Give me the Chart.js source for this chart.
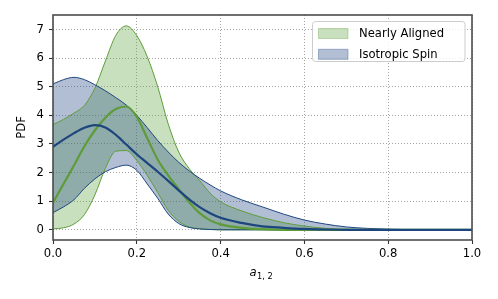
<!DOCTYPE html>
<html>
<head>
<meta charset="utf-8">
<script src="https://cdn.jsdelivr.net/npm/chart.js@4/dist/chart.umd.min.js"></script>
<style>html,body{margin:0;padding:0;background:#fff;}canvas{display:block;}</style>
</head>
<body>
<canvas id="c" width="498" height="299"></canvas>
<script>
const xs = [0, 0.025, 0.05, 0.075, 0.1, 0.125, 0.15, 0.175, 0.2, 0.225, 0.25, 0.275, 0.3, 0.325, 0.35, 0.375, 0.4, 0.45, 0.5, 0.55, 0.6, 0.65, 0.7, 0.75, 0.8, 0.9, 1.0];
const alignedUpper  = [3.68, 3.86, 4.08, 4.35, 4.95, 5.9, 6.8, 7.13, 6.79, 6.05, 5.0, 3.7, 2.72, 2.14, 1.72, 1.28, 0.98, 0.66, 0.43, 0.25, 0.13, 0.05, 0.02, 0.005, 0, 0, 0];
const alignedMedian = [0.95, 1.6, 2.25, 2.92, 3.48, 3.92, 4.22, 4.31, 3.95, 3.2, 2.45, 1.9, 1.42, 0.96, 0.58, 0.33, 0.19, 0.07, 0.02, 0, 0, 0, 0, 0, 0, 0, 0];
const alignedLower  = [0.03, 0.07, 0.2, 0.53, 1.22, 2.15, 2.75, 2.77, 2.42, 1.9, 1.3, 0.68, 0.3, 0.1, 0.04, 0.01, 0, 0, 0, 0, 0, 0, 0, 0, 0, 0, 0];
const isoUpper  = [5.1, 5.25, 5.33, 5.25, 5.07, 4.86, 4.62, 4.36, 4.0, 3.57, 3.12, 2.72, 2.36, 2.06, 1.8, 1.57, 1.36, 1.05, 0.8, 0.55, 0.34, 0.2, 0.1, 0.05, 0.02, 0, 0];
const isoMedian = [2.9, 3.15, 3.38, 3.57, 3.66, 3.58, 3.32, 2.98, 2.64, 2.33, 2.03, 1.71, 1.38, 1.06, 0.79, 0.58, 0.42, 0.24, 0.12, 0.07, 0.03, 0.01, 0, 0, 0, 0, 0];
const isoLower  = [0.6, 0.8, 1.05, 1.45, 1.78, 2.03, 2.18, 2.26, 2.08, 1.6, 1.1, 0.55, 0.22, 0.08, 0.03, 0.01, 0, 0, 0, 0, 0, 0, 0, 0, 0, 0, 0];
const xTicks = [0, 0.2, 0.4, 0.6, 0.8, 1.0];
const yTicks = [0, 1, 2, 3, 4, 5, 6, 7];
const seriesNames = ['Nearly Aligned', 'Isotropic Spin'];

const GREEN_LINE = 'rgb(94,156,58)';
const GREEN_FILL = 'rgba(106,168,76,0.36)';
const BLUE_LINE = 'rgb(30,70,126)';
const BLUE_FILL = 'rgba(40,74,134,0.36)';
const FONT = 'DejaVu Sans';

const pts = arr => arr.map((y, i) => ({x: xs[i], y: y}));

Chart.defaults.font.family = FONT;
Chart.defaults.font.size = 11.6;
Chart.defaults.color = '#000';

const base = {pointRadius: 0, pointHoverRadius: 0, cubicInterpolationMode: 'monotone'};

const datasets = [
  Object.assign({}, base, {label: seriesNames[0], data: pts(alignedUpper), borderColor: GREEN_LINE, borderWidth: 1, backgroundColor: GREEN_FILL, fill: '+1', order: 3, isBand: true}),
  Object.assign({}, base, {label: seriesNames[0] + ' lower', data: pts(alignedLower), borderColor: GREEN_LINE, borderWidth: 1, fill: false, order: 3}),
  Object.assign({}, base, {label: seriesNames[1], data: pts(isoUpper), borderColor: BLUE_LINE, borderWidth: 1, backgroundColor: BLUE_FILL, fill: '+1', order: 2, isBand: true}),
  Object.assign({}, base, {label: seriesNames[1] + ' lower', data: pts(isoLower), borderColor: BLUE_LINE, borderWidth: 1, fill: false, order: 2}),
  Object.assign({}, base, {label: seriesNames[0] + ' median', data: pts(alignedMedian), borderColor: GREEN_LINE, borderWidth: 2.2, fill: false, order: 1}),
  Object.assign({}, base, {label: seriesNames[1] + ' median', data: pts(isoMedian), borderColor: BLUE_LINE, borderWidth: 2.2, fill: false, order: 0})
];

const framePlugin = {
  id: 'frame',
  afterDraw(chart) {
    const {ctx, chartArea: a} = chart;
    ctx.save();
    ctx.strokeStyle = '#4d4d4d';
    ctx.lineWidth = 1.6;
    ctx.strokeRect(a.left, a.top, a.right - a.left, a.bottom - a.top);
    // x axis title: italic a with subscript 1, 2
    ctx.fillStyle = '#000';
    ctx.textBaseline = 'alphabetic';
    ctx.textAlign = 'left';
    ctx.font = 'italic 11.6px ' + FONT;
    const cx = (a.left + a.right) / 2;
    ctx.fillText('a', cx - 13, 276);
    ctx.font = '8.2px ' + FONT;
    ctx.fillText('1, 2', cx - 5.5, 279);
    // legend
    const lx = 312.5, ly = 21.5, lw = 152.5, lh = 40;
    ctx.beginPath();
    if (ctx.roundRect) ctx.roundRect(lx, ly, lw, lh, 3); else ctx.rect(lx, ly, lw, lh);
    ctx.fillStyle = 'rgba(255,255,255,0.8)';
    ctx.fill();
    ctx.strokeStyle = '#cccccc';
    ctx.lineWidth = 1;
    ctx.stroke();
    const bands = chart.data.datasets.filter(d => d.isBand);
    bands.forEach((d, i) => {
      const py = 28.5 + i * 20.8;
      ctx.fillStyle = d.backgroundColor;
      ctx.fillRect(318.5, py, 29.5, 10);
      ctx.strokeStyle = d.borderColor;
      ctx.globalAlpha = 0.35;
      ctx.lineWidth = 1;
      ctx.strokeRect(318.5, py, 29.5, 10);
      ctx.globalAlpha = 1;
      ctx.fillStyle = '#000';
      ctx.font = '11.6px ' + FONT;
      ctx.textBaseline = 'middle';
      ctx.fillText(d.label, 359, py + 5.3);
    });
    ctx.restore();
  }
};

new Chart(document.getElementById('c'), {
  type: 'line',
  data: {datasets: datasets},
  options: {
    responsive: false,
    animation: false,
    devicePixelRatio: 1,
    layout: {padding: {top: 15, right: 26, left: 0, bottom: 0}},
    plugins: {
      legend: {display: false},
      tooltip: {enabled: false},
      filler: {drawTime: 'beforeDatasetsDraw', propagate: false}
    },
    scales: {
      x: {
        type: 'linear', min: 0, max: 1,
        afterBuildTicks: s => { s.ticks = xTicks.map(v => ({value: v})); },
        afterFit: s => { s.height = 59; },
        ticks: {callback: v => Number(v).toFixed(1), padding: 3, maxRotation: 0, font: {size: 11.6}},
        grid: {color: 'rgba(100,100,100,0.75)', lineWidth: 0.8, tickLength: 4, tickColor: '#333', tickWidth: 1.1, tickBorderDash: []},
        border: {display: false, dash: [1, 2]}
      },
      y: {
        type: 'linear', min: -0.357, max: 7.51,
        afterBuildTicks: s => { s.ticks = yTicks.map(v => ({value: v})); },
        afterFit: s => { s.width = 53; },
        ticks: {callback: v => String(v), padding: 5, font: {size: 11.6}},
        title: {display: true, text: 'PDF', font: {size: 11.6}, padding: {top: 14.7, bottom: 0}},
        grid: {color: 'rgba(100,100,100,0.75)', lineWidth: 0.8, tickLength: 4, tickColor: '#333', tickWidth: 1.1, tickBorderDash: []},
        border: {display: false, dash: [1, 2]}
      }
    }
  },
  plugins: [framePlugin]
});
</script>
</body>
</html>
